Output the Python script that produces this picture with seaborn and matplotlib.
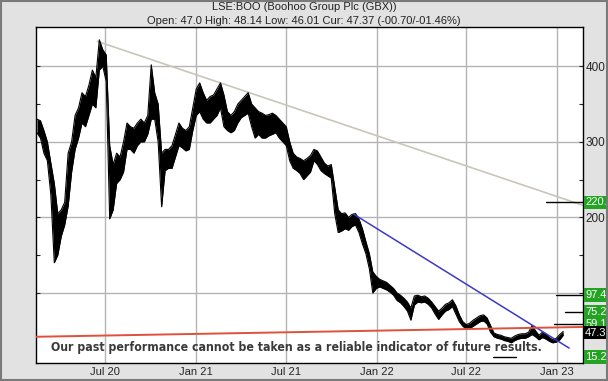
import numpy as np
import pandas as pd
import matplotlib
matplotlib.use("Agg")
import matplotlib.pyplot as plt
import seaborn as sns

# weekly high / low readings (GBX), week starting 14 Feb 2020
highs = [330, 328, 315, 300, 272, 245, 205, 210, 220, 285,
         300, 335, 345, 365, 360, 375, 395, 385, 435, 422,
         415, 295, 270, 285, 280, 300, 325, 320, 318, 325,
         330, 325, 335, 402, 365, 350, 285, 290, 290, 295,
         310, 325, 318, 315, 320, 345, 370, 378, 365, 355,
         360, 362, 370, 378, 362, 340, 335, 340, 350, 355,
         360, 365, 350, 345, 340, 338, 335, 336, 338, 335,
         330, 325, 320, 300, 285, 280, 278, 275, 278, 282,
         290, 288, 280, 272, 268, 270, 240, 210, 205, 206,
         200, 204, 205, 198, 185, 168, 152, 128, 122, 118,
         116, 114, 110, 106, 100, 97, 93, 88, 80, 96,
         97, 95, 96, 93, 88, 82, 76, 80, 85, 87,
         91, 83, 71, 62, 58, 60, 64, 67, 70, 71,
         67, 57, 47, 45, 44, 42, 41, 40, 43, 45,
         46, 46, 48, 57, 50, 44, 48, 46, 41, 38,
         40, 45, 49]
lows = [312, 305, 285, 275, 230, 140, 150, 175, 190, 215,
        260, 290, 305, 325, 320, 335, 350, 345, 395, 400,
        380, 198, 210, 245, 250, 260, 290, 290, 285, 295,
        300, 300, 310, 330, 330, 300, 214, 262, 265, 265,
        280, 295, 292, 288, 290, 315, 335, 340, 330, 325,
        325, 330, 335, 345, 320, 315, 312, 315, 325, 332,
        335, 338, 320, 305, 310, 305, 305, 308, 310, 312,
        305, 300, 295, 275, 265, 262, 258, 250, 255, 260,
        275, 270, 262, 258, 255, 252, 205, 180, 182, 185,
        183, 188, 190, 180, 165, 152, 132, 100, 106, 108,
        106, 104, 101, 97, 90, 87, 82, 76, 64, 84,
        88, 87, 88, 85, 80, 72, 65, 71, 76, 78,
        82, 72, 62, 56, 52, 53, 56, 59, 62, 63,
        59, 48, 42, 40, 39, 37, 36, 34, 37, 39,
        40, 40, 42, 45, 42, 38, 41, 39, 36, 34,
        35, 38, 44]

# trend lines and target levels
grey_dates = ["2020-06-15", "2023-02-22"]
grey_vals = [433, 216]
blue_dates = ["2021-11-16", "2023-01-25"]
blue_vals = [204, 27]
red_dates = ["2020-02-12", "2023-02-22"]
red_vals = [42, 55]
target_vals = [220.0, 97.4, 75.2, 59.1, 15.2]
target_labels = ["220.0", "97.4", "75.2", "59.1", "15.2"]
target_starts = ["2022-12-10", "2022-12-30", "2023-01-17", "2022-12-26", "2022-08-25"]
target_ends = ["2023-02-22", "2023-02-22", "2023-02-22", "2023-02-22", "2022-10-10"]
current = 47.37

x_ticks = ["2020-07-01", "2021-01-01", "2021-07-01", "2022-01-01", "2022-07-01", "2023-01-01"]
x_labels = ["Jul 20", "Jan 21", "Jul 21", "Jan 22", "Jul 22", "Jan 23"]

df = pd.DataFrame({
    "date": pd.date_range("2020-02-14", periods=len(highs), freq="7D"),
    "high": highs,
    "low": lows,
})

sns.set_style("white")
plt.rcParams["font.family"] = ["Liberation Sans", "DejaVu Sans"]

fig = plt.figure(figsize=(6.08, 3.81), dpi=100, facecolor="#e2e2e2")
ax = fig.add_axes([36 / 608, 18 / 381, 547 / 608, 336 / 381])
ax.set_facecolor("white")

# price bars (weekly range as a band)
ax.fill_between(df["date"], df["low"], df["high"], color="black", lw=0, zorder=3)
sns.lineplot(data=df, x="date", y="high", ax=ax, color="black", lw=0.8, zorder=3)
sns.lineplot(data=df, x="date", y="low", ax=ax, color="black", lw=0.8, zorder=3)

# trend lines
ax.plot(pd.to_datetime(grey_dates), grey_vals, color="#c9c6b8", lw=1.2, zorder=2)
ax.plot(pd.to_datetime(blue_dates), blue_vals, color="#3a3ac8", lw=1.1, zorder=4)
ax.plot(pd.to_datetime(red_dates), red_vals, color="#e0503c", lw=1.4, zorder=4)

# target markers
for v, s, e in zip(target_vals, target_starts, target_ends):
    ax.plot(pd.to_datetime([s, e]), [v, v], color="black", lw=1.0, zorder=4, clip_on=False)

ax.set_xlim(pd.Timestamp("2020-02-12"), pd.Timestamp("2023-02-22"))
ax.set_ylim(7.3, 452)

ax.set_xticks(pd.to_datetime(x_ticks))
ax.set_xticklabels(x_labels, fontsize=8)
ax.set_yticks([100, 200, 300, 400])
ax.set_yticklabels(["", "200", "300", "400"], fontsize=8.5)
ax.set_yticks([150, 250, 350], minor=True)
ax.tick_params(axis="y", which="both", left=True, right=True, labelleft=False,
               labelright=True, direction="in", length=3, width=0.8, pad=2)
ax.tick_params(axis="x", length=0, pad=3)
ax.grid(True, which="major", color="#b4b4b4", lw=1.0)
ax.set_axisbelow(True)
ax.set_xlabel("")
ax.set_ylabel("")
for sp in ax.spines.values():
    sp.set_color("black")
    sp.set_linewidth(1.0)

# level labels on the right edge
trans = ax.get_yaxis_transform()
for v, lab in zip(target_vals, target_labels):
    ax.text(1.004, v, lab, transform=trans, fontsize=8, color="white", va="center",
            ha="left", zorder=10, clip_on=False,
            bbox=dict(boxstyle="square,pad=0.15", fc="#22a322", ec="none"))
ax.text(1.004, current, "47.37", transform=trans, fontsize=8, color="white", va="center",
        ha="left", zorder=11, clip_on=False,
        bbox=dict(boxstyle="square,pad=0.15", fc="black", ec="none"))

ax.text(0.477, 0.045, "Our past performance cannot be taken as a reliable indicator of future results.",
        transform=ax.transAxes, ha="center", va="center", fontsize=8.8, fontweight="bold",
        fontstretch="condensed", color="#3a3a3a", family=["DejaVu Sans"], zorder=6)

fig.text(0.5, 1 - 7 / 381, "LSE:BOO (Boohoo Group Plc (GBX))", ha="center", va="center",
         fontsize=8, color="#222222")
fig.text(0.5, 1 - 21 / 381, "Open: 47.0 High: 48.14 Low: 46.01 Cur: 47.37 (-00.70/-01.46%)",
         ha="center", va="center", fontsize=8, color="#222222")

fig.patches.append(plt.Rectangle((0.002, 0.003), 0.996, 0.994, transform=fig.transFigure,
                                 fill=False, ec="#7a7a7a", lw=1.5))

fig.savefig("out.png", dpi=100, facecolor=fig.get_facecolor())
